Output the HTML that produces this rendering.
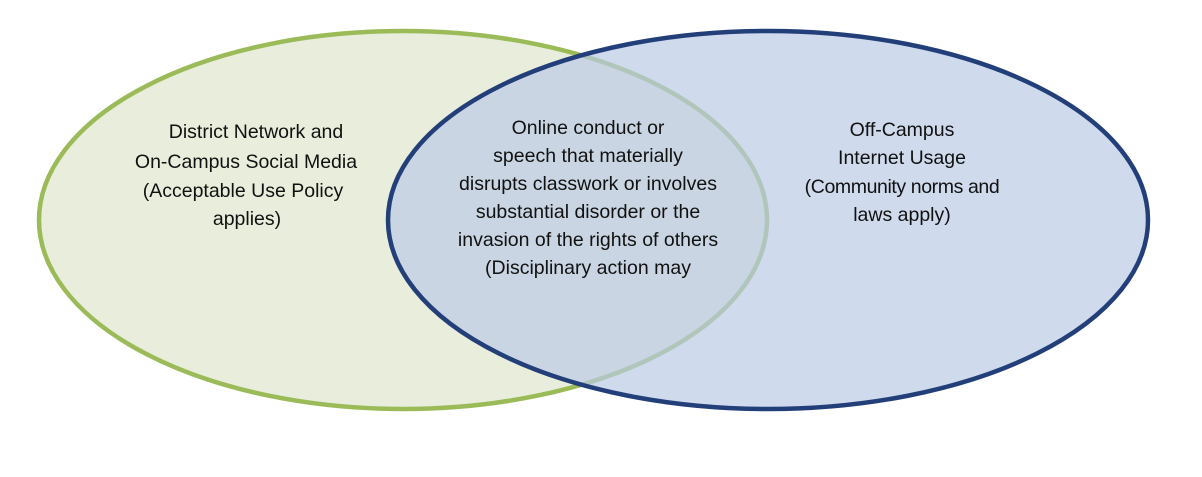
<!DOCTYPE html>
<html><head><style>
body{margin:0;background:#fff;width:1202px;height:472px;overflow:hidden}
svg text{font-family:"Liberation Sans",sans-serif;font-size:19.5px;fill:#111;text-anchor:middle}
</style></head><body>
<svg width="1202" height="472" viewBox="0 0 1202 472">
<ellipse cx="403" cy="220" rx="364" ry="189" fill="#e9eedc" stroke="#9bbb59" stroke-width="4.5"/>
<ellipse cx="768" cy="220" rx="380" ry="189" fill="rgb(186,202,228)" fill-opacity="0.7" stroke="#233f7a" stroke-width="4.5"/>
<g>
<text x="256" y="138">District Network and</text>
<text x="246" y="168">On-Campus Social Media</text>
<text x="243" y="197">(Acceptable Use Policy</text>
<text x="247" y="225">applies)</text>
</g>
<g>
<text x="588" y="134">Online conduct or</text>
<text x="588" y="162">speech that materially</text>
<text x="588" y="190">disrupts classwork or involves</text>
<text x="588" y="218">substantial disorder or the</text>
<text x="588" y="246">invasion of the rights of others</text>
<text x="588" y="274">(Disciplinary action may</text>
</g>
<g style="font-size:19px">
<text x="902" y="136">Off-Campus</text>
<text x="902" y="164">Internet Usage</text>
<text x="902" y="193" letter-spacing="-0.4">(Community norms and</text>
<text x="902" y="221">laws apply)</text>
</g>
</svg>
</body></html>
